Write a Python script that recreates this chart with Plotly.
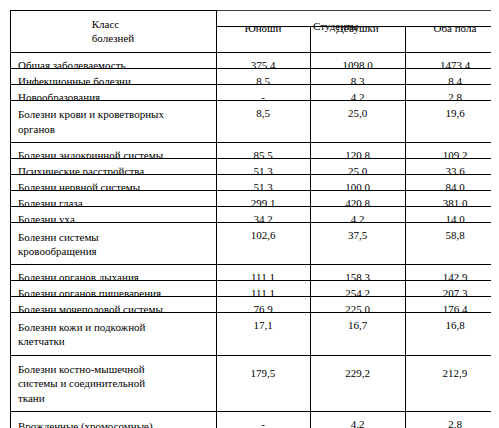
import plotly.graph_objects as go

diseases = [
    "Общая заболеваемость", "Инфекционные болезни", "Новообразования",
    "Болезни крови и кроветворных<br>органов", "Болезни эндокринной системы",
    "Психические расстройства", "Болезни нервной системы", "Болезни глаза",
    "Болезни уха", "Болезни системы<br>кровообращения", "Болезни органов дыхания",
    "Болезни органов пищеварения", "Болезни мочеполовой системы",
    "Болезни кожи и подкожной<br>клетчатки",
    "Болезни костно-мышечной<br>системы и соединительной<br>ткани",
    "Врожденные (хромосомные)<br>аномалии", "Травмы",
]
boys = ["375,4", "8,5", "-", "8,5", "85,5", "51,3", "51,3", "299,1", "34,2", "102,6",
        "111,1", "111,1", "76,9", "17,1", "<br>179,5", "-", "8,5"]
girls = ["1098,0", "8,3", "4,2", "25,0", "120,8", "25,0", "100,0", "420,8", "4,2", "37,5",
         "158,3", "254,2", "225,0", "16,7", "<br>229,2", "4,2", "-"]
both = ["1473,4", "8,4", "2,8", "19,6", "109,2", "33,6", "84,0", "381,0", "14,0", "58,8",
        "142,9", "207,3", "176,4", "16,8", "<br>212,9", "2,8", "2,8"]
headers = ["Класс<br>болезней", "<br>Юноши", "<br>Девушки", "<br>Оба пола"]

font = dict(family="Liberation Serif, Times New Roman, serif", size=11, color="black")

fig = go.Figure(go.Table(
    columnwidth=[206, 94, 95, 100],
    header=dict(values=headers, align="center", height=30, font=font,
                line=dict(color="black", width=1), fill_color="white"),
    cells=dict(values=[diseases, boys, girls, both],
               align=["left", "center", "center", "center"], height=16, font=font,
               line=dict(color="black", width=1), fill_color="white"),
))

# merged "Студенты" header over the three value columns
x0 = 206 / 495
fig.add_shape(type="rect", xref="paper", yref="paper", x0=x0 + 0.004, x1=0.997,
              y0=0.962, y1=0.998, fillcolor="white", line_width=0, layer="above")
fig.add_shape(type="line", xref="paper", yref="paper", x0=x0, x1=1,
              y0=0.961, y1=0.961, line=dict(color="black", width=1), layer="above")
fig.add_annotation(text="Студенты", xref="paper", yref="paper", x=(x0 + 1) / 2, y=0.98,
                   showarrow=False, font=font)

fig.update_layout(width=499, height=428, margin=dict(l=2, r=2, t=2, b=2),
                  paper_bgcolor="white")
fig.write_html("out.html")
